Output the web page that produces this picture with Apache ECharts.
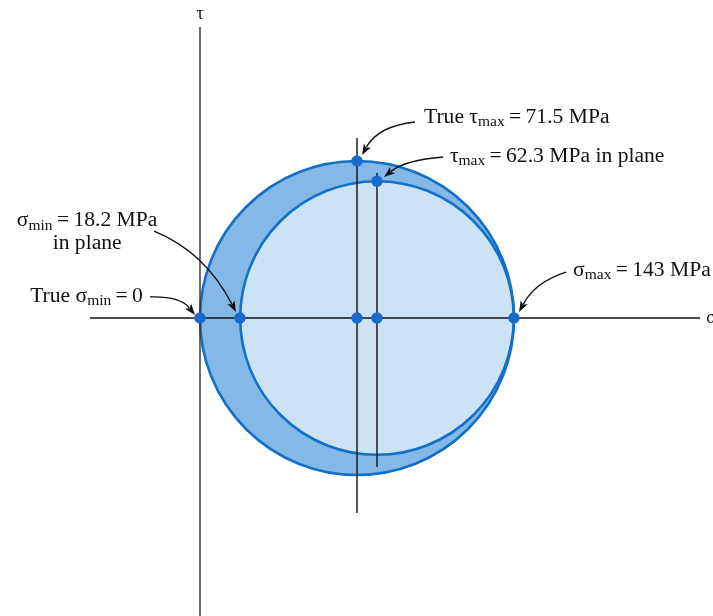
<!DOCTYPE html>
<html><head><meta charset="utf-8">
<script src="https://cdn.jsdelivr.net/npm/echarts@6/dist/echarts.min.js"></script>
<style>html,body{margin:0;padding:0;background:#fff}#c{width:713px;height:616px}</style>
</head><body><div id="c"></div>
<script>
// ---- data (MPa) ----
var circleCenters = [71.5, 80.6];
var circleRadii = [71.5, 62.3];
var pointSigma = [0, 18.2, 71.5, 80.6, 143, 71.5, 80.6];
var pointTau = [0, 0, 0, 0, 0, 71.5, 62.3];
var vLineSigma = [71.5, 80.6];
var vLineTop = [82, 66];
var vLineBottom = [-88.8, -67.9];
var axisSigmaRange = [-50.1, 227.7];
var axisTauRange = [-140, 132.5];
var annTexts = [
  '{t|True τ}{s|max}{t|\u2009=\u200971.5 MPa}',
  '{t|τ}{s|max}{t|\u2009=\u200962.3 MPa in plane}',
  '{t|σ}{s|min}{t|\u2009=\u200918.2 MPa}\n{t|in plane}',
  '{t|True σ}{s|min}{t|\u2009=\u20090}',
  '{t|σ}{s|max}{t|\u2009=\u2009143 MPa}'
];
var annTextX = [102.0, 113.8, -51.4, -26.0, 169.9];
var annTextY = [91.5, 73.8, 39.2, 10.0, 21.9];
var annAlign = ['left', 'left', 'center', 'right', 'left'];
var arrowStart = [[97.9, 89.25], [110.7, 73.3], [-20.9, 39.6], [-22.8, 9.6], [166.7, 20.9]];
var arrowCtrl = [[81.1, 87.4], [93.4, 71.9], [2.3, 30.1], [-9.1, 10.0], [152.6, 16.4]];
var arrowEnd = [[73.8, 74.2], [83.8, 64.2], [16.4, 2.7], [-2.3, 1.4], [145.3, 2.7]];
var axisNames = ['σ', 'τ'];

// ---- layout ----
var W = 713, H = 616, originX = 200, originY = 318, k = 314 / 143;
var xMin = -originX / k, xMax = (W - originX) / k;
var yMax = originY / k, yMin = -(H - originY) / k;

var serif = '"Liberation Serif", "DejaVu Serif", serif';
var rich = {
  t: { fontFamily: serif, fontSize: 21.6, fill: '#111', lineHeight: 23 },
  s: { fontFamily: serif, fontSize: 15.5, fill: '#111', padding: [10, 0, 0, 0], lineHeight: 23 }
};

var chart = echarts.init(document.getElementById('c'), null, { renderer: 'canvas' });
chart.setOption({
  backgroundColor: '#fff',
  animation: false,
  grid: { left: 0, right: 0, top: 0, bottom: 0 },
  xAxis: { type: 'value', min: xMin, max: xMax, show: false },
  yAxis: { type: 'value', min: yMin, max: yMax, show: false },
  series: [
    {
      type: 'custom', z: 1, clip: false,
      data: circleCenters.map(function (c, i) { return [c, circleRadii[i], i]; }),
      renderItem: function (params, api) {
        var c = api.coord([api.value(0), 0]);
        var r = api.size([api.value(1), 0])[0];
        var i = api.value(2);
        return {
          type: 'circle', z2: i,
          shape: { cx: c[0], cy: c[1], r: r },
          style: { fill: i === 0 ? '#84b8e6' : '#cce3f5', stroke: '#1270c8', lineWidth: 2.6 }
        };
      }
    },
    {
      type: 'custom', z: 2, clip: false,
      data: [[axisSigmaRange[0], 0, axisSigmaRange[1], 0], [0, axisTauRange[0], 0, axisTauRange[1]]]
        .concat(vLineSigma.map(function (s, i) { return [s, vLineBottom[i], s, vLineTop[i]]; })),
      renderItem: function (params, api) {
        var a = api.coord([api.value(0), api.value(1)]);
        var b = api.coord([api.value(2), api.value(3)]);
        return {
          type: 'line',
          shape: { x1: a[0], y1: a[1], x2: b[0], y2: b[1] },
          style: { stroke: params.dataIndex === 1 ? '#333' : '#111', lineWidth: 1.4 }
        };
      }
    },
    {
      type: 'scatter', z: 3, symbol: 'circle', symbolSize: 11.5,
      itemStyle: { color: '#1a6acb', opacity: 1 },
      data: pointSigma.map(function (s, i) { return [s, pointTau[i]]; })
    },
    {
      type: 'custom', z: 4, clip: false,
      data: annTexts.map(function (t, i) { return [annTextX[i], annTextY[i], i]; }),
      renderItem: function (params, api) {
        var i = api.value(2);
        var p = api.coord([api.value(0), api.value(1)]);
        var s = api.coord(arrowStart[i]), c = api.coord(arrowCtrl[i]), e = api.coord(arrowEnd[i]);
        var dx = e[0] - c[0], dy = e[1] - c[1], len = Math.sqrt(dx * dx + dy * dy);
        var ux = dx / len, uy = dy / len, L = 11, Wd = 4;
        var bx = e[0] - ux * L, by = e[1] - uy * L;
        return {
          type: 'group',
          children: [
            {
              type: 'text',
              style: {
                x: p[0], y: p[1], text: annTexts[i], rich: rich,
                align: annAlign[i], verticalAlign: 'middle'
              }
            },
            {
              type: 'bezierCurve',
              shape: { x1: s[0], y1: s[1], cpx1: c[0], cpy1: c[1], x2: bx + ux * 2, y2: by + uy * 2 },
              style: { stroke: '#111', lineWidth: 1.4, fill: null }
            },
            {
              type: 'polygon',
              shape: { points: [[e[0], e[1]], [bx - uy * Wd, by + ux * Wd], [bx + ux * 2.5, by + uy * 2.5], [bx + uy * Wd, by - ux * Wd]] },
              style: { fill: '#111' }
            }
          ]
        };
      }
    },
    {
      type: 'custom', z: 4, clip: false,
      data: [[axisSigmaRange[1] + 2.9, 0, 0], [0, yMax - 6.4, 1]],
      renderItem: function (params, api) {
        var p = api.coord([api.value(0), api.value(1)]);
        var i = api.value(2);
        return {
          type: 'text',
          style: {
            x: p[0], y: p[1], text: axisNames[i], font: '18px ' + serif, fill: '#111',
            align: i === 0 ? 'left' : 'center', verticalAlign: 'middle'
          }
        };
      }
    }
  ]
});
</script></body></html>
